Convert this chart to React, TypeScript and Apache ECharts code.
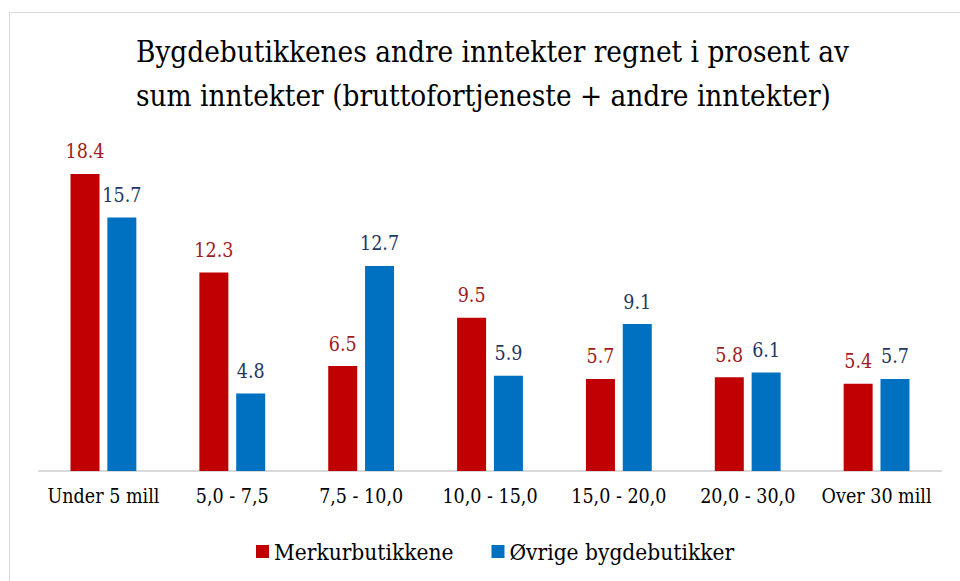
import React, { useEffect, useRef } from "react";
import * as echarts from "echarts";

const categories = ["Under 5 mill", "5,0 - 7,5", "7,5 - 10,0", "10,0 - 15,0", "15,0 - 20,0", "20,0 - 30,0", "Over 30 mill"];
const merkurValues = [18.4, 12.3, 6.5, 9.5, 5.7, 5.8, 5.4];
const ovrigeValues = [15.7, 4.8, 12.7, 5.9, 9.1, 6.1, 5.7];
const seriesNames = ["Merkurbutikkene", "Øvrige bygdebutikker"];
const titleText = "Bygdebutikkenes andre inntekter regnet i prosent av\nsum inntekter (bruttofortjeneste + andre inntekter)";

const FONT = "'DejaVu Serif Condensed', 'DejaVu Serif', 'Liberation Serif', serif";

export default function App() {
  const ref = useRef<HTMLDivElement>(null);
  useEffect(() => {
    if (!ref.current) return;
    const chart = echarts.init(ref.current, undefined, { renderer: "svg" });
    chart.setOption({
      animation: false,
      backgroundColor: "#ffffff",
      textStyle: { fontFamily: FONT },
      title: {
        text: titleText,
        left: 131,
        top: 25,
        textStyle: { fontFamily: FONT, fontSize: 29.4, fontWeight: "normal", color: "#000000", lineHeight: 44, align: "center" },
      },
      graphic: [
        {
          type: "rect",
          shape: { x: 9.5, y: 12.5, width: 1000, height: 1000 },
          style: { fill: "none", stroke: "#d9d9d9", lineWidth: 1 },
          silent: true,
          z: -1,
        },
      ],
      legend: {
        data: seriesNames,
        bottom: 13,
        left: 251,
        itemWidth: 13,
        itemHeight: 13,
        itemGap: 38,
        icon: "rect",
        textStyle: { fontFamily: FONT, fontSize: 22.5, color: "#000000" },
      },
      grid: { left: 39, right: 19, top: 132, bottom: 110, containLabel: false },
      xAxis: {
        type: "category",
        data: categories,
        axisLine: { show: true, lineStyle: { color: "#d9d9d9", width: 2 } },
        axisTick: { show: false },
        axisLabel: { fontFamily: FONT, fontSize: 19.5, color: "#000000", margin: 15, interval: 0 },
      },
      yAxis: {
        type: "value",
        min: 0,
        max: 21,
        show: false,
        splitLine: { show: false },
      },
      series: [
        {
          name: seriesNames[0],
          type: "bar",
          data: merkurValues,
          barWidth: 29,
          barGap: "27%",
          itemStyle: { color: "#c00000" },
          label: { show: true, position: "top", distance: 12, fontFamily: FONT, fontSize: 19.5, color: "#a01c1c" },
        },
        {
          name: seriesNames[1],
          type: "bar",
          data: ovrigeValues,
          barWidth: 29,
          barGap: "27%",
          itemStyle: { color: "#0070c0" },
          label: { show: true, position: "top", distance: 12, fontFamily: FONT, fontSize: 19.5, color: "#1f3864" },
        },
      ],
    });
    return () => chart.dispose();
  }, []);
  return <div ref={ref} style={{ position: "fixed", left: 0, top: 0, width: 960, height: 581 }} />;
}
